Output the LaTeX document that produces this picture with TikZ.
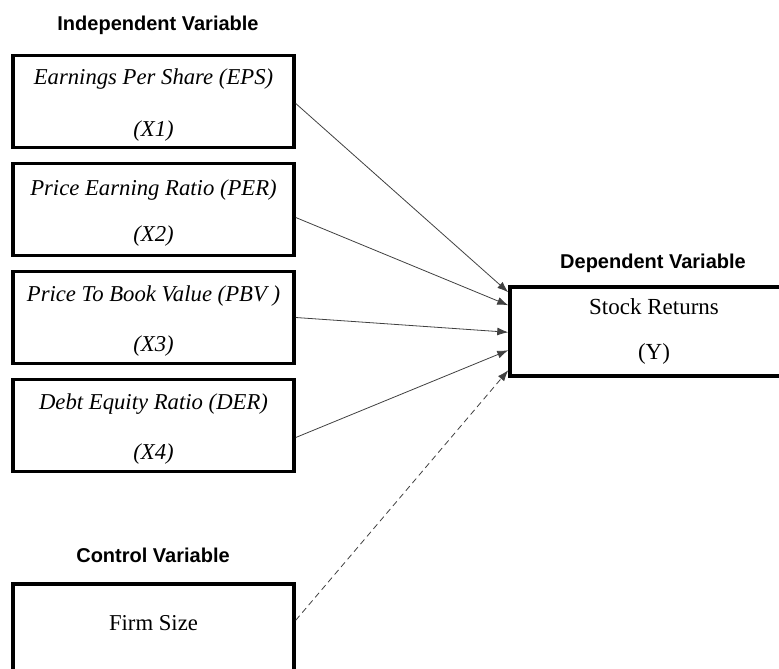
\documentclass[tikz,border=0pt]{standalone}
\usepackage{fontspec}
\setmainfont{Liberation Serif}
\setsansfont{Liberation Sans}
\usetikzlibrary{arrows.meta,positioning}
\newcommand{\boxstrut}{\rule{0pt}{23pt}}

\begin{document}
\begin{tikzpicture}[x=1pt,y=-1pt,
            varbox/.style={draw,rectangle,line width=3.5pt,inner ysep=0pt,minimum width=281pt,minimum height=92pt,align=center,font=\fontsize{22.7}{22.7}\selectfont},
            depbox/.style={varbox,minimum width=288pt,minimum height=89pt,font=\fontsize{23}{23}\selectfont},
            heading/.style={font=\sffamily\bfseries\fontsize{20}{20}\selectfont},
            link/.style={draw,line width=0.8pt,black!75,-{Latex[length=11pt,width=8pt]}},
            node distance=12.5pt
          ]
          \useasboundingbox (0,0) rectangle (779,669);
          %independent variables
          \node[varbox] (eps) at (153.5,101.5) {\boxstrut\textit{Earnings Per Share (EPS)}\\[29pt]\textit{(X1)}};
          \node[varbox,below=of eps] (per) {\boxstrut\textit{Price Earning Ratio (PER)}\\[24pt]\textit{(X2)}};
          \node[varbox,below=of per] (pbv) {\boxstrut\textit{Price To Book Value (PBV )}\\[28pt]\textit{(X3)}};
          \node[varbox,below=of pbv] (der) {\boxstrut\textit{Debt Equity Ratio (DER)}\\[27pt]\textit{(X4)}};

          %dependent and control variables
          \node[depbox] (ret) at (654,331.5) {Stock Returns\\[22pt](Y)};
          \node[varbox] (size) at (153.5,630) {\raisebox{15pt}{Firm Size}};

          %headings
          \node[heading] (indep) at (158,25) {Independent Variable};
          \node[heading] (dep) at (653,263) {Dependent Variable};
          \node[heading] (ctrl) at (153,555) {Control Variable};

          %links
          \path[link] ([yshift=-2pt]eps.east) -- ([yshift=-7pt]ret.north west);
          \path[link] ([yshift=-8pt]per.east) -- ([yshift=-20pt]ret.north west);
          \path[link] (pbv.east) -- ([yshift=-47pt]ret.north west);
          \path[link] ([yshift=-12pt]der.east) -- ([yshift=-65pt]ret.north west);
          \path[link,dash pattern=on 6pt off 4pt] ([yshift=-38pt]size.north east) -- ([yshift=-85pt]ret.north west);
\end{tikzpicture}
\end{document}
